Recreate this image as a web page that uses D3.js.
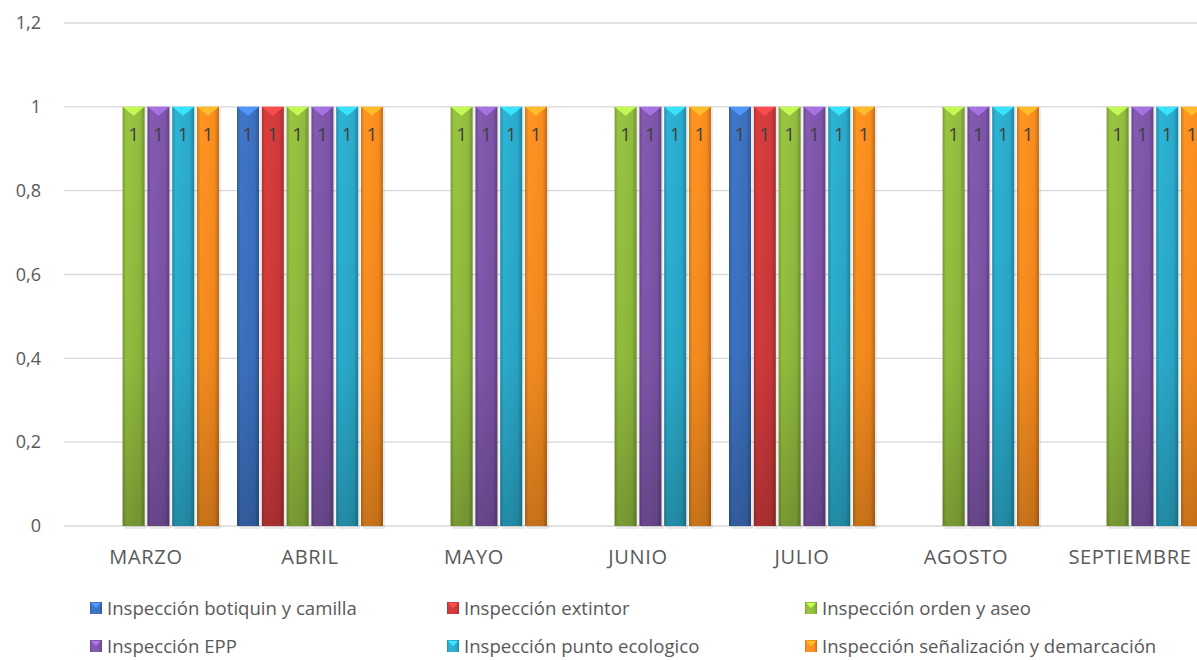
<!DOCTYPE html>
<html><head><meta charset="utf-8">
<script src="https://cdn.jsdelivr.net/npm/d3@7"></script>
<style>body{margin:0;background:#fff}svg{display:block;font-family:"Open Sans","Noto Sans","Liberation Sans",sans-serif}</style>
</head><body><svg id="c" width="1197" height="660"></svg>
<script>
const months = ["MARZO","ABRIL","MAYO","JUNIO","JULIO","AGOSTO","SEPTIEMBRE"];
const seriesNames = ["Inspección botiquin y camilla","Inspección extintor","Inspección orden y aseo","Inspección EPP","Inspección punto ecologico","Inspección señalización y demarcación"];
const botiquin = [null,1,null,null,1,null,null];
const extintor = [null,1,null,null,1,null,null];
const orden = [1,1,1,1,1,1,1];
const epp = [1,1,1,1,1,1,1];
const punto = [1,1,1,1,1,1,1];
const senal = [1,1,1,1,1,1,1];
const yTicks = [0,0.2,0.4,0.6,0.8,1,1.2];
const colors = ["#3c70bf","#cf3a3b","#91bb3e","#7d55a8","#2aaacb","#f88c1f"];
const seriesValues = [botiquin,extintor,orden,epp,punto,senal];

const svg = d3.select("#c");
const W = 1197;
const x0 = d3.scaleBand().domain(months).range([64, 64 + 164*7]);
const x1 = d3.scaleBand().domain(d3.range(6)).range([9,155]).paddingInner(0.113);
const y = d3.scaleLinear().domain([0,1.2]).range([526,23]);
const fmt = v => String(v).replace(".", ",");

const defs = svg.append("defs");
colors.forEach((c,i)=>{
  const g = defs.append("linearGradient").attr("id","g"+i).attr("x1","0").attr("x2","1").attr("y1","0").attr("y2","0");
  const base = d3.color(c);
  g.append("stop").attr("offset","0").attr("stop-color", base.darker(0.5));
  g.append("stop").attr("offset","0.15").attr("stop-color", base.brighter(0.15));
  g.append("stop").attr("offset","0.45").attr("stop-color", base.brighter(0.1));
  g.append("stop").attr("offset","0.8").attr("stop-color", base);
  g.append("stop").attr("offset","1").attr("stop-color", base.darker(0.7));
  const gv = defs.append("linearGradient").attr("id","v"+i).attr("x1","0").attr("x2","0").attr("y1","0").attr("y2","1");
  gv.append("stop").attr("offset","0").attr("stop-color","#000").attr("stop-opacity",0);
  gv.append("stop").attr("offset","0.6").attr("stop-color","#000").attr("stop-opacity",0.05);
  gv.append("stop").attr("offset","1").attr("stop-color","#000").attr("stop-opacity",0.22);
});

// gridlines
svg.append("g").selectAll("line").data(yTicks).join("line")
  .attr("x1",64).attr("x2",W).attr("y1",d=>y(d)).attr("y2",d=>y(d))
  .attr("stroke","#d9d9d9").attr("stroke-width",1.3);

// y labels
svg.append("g").selectAll("text").data(yTicks).join("text")
  .attr("x",41).attr("y",d=>y(d)).attr("dy","0.35em").attr("text-anchor","end")
  .attr("font-size",18).attr("fill","#595959").text(fmt);

// x labels
svg.append("g").selectAll("text").data(months).join("text")
  .attr("x",d=>x0(d)+x0.bandwidth()/2).attr("y",557).attr("dy","0.35em").attr("text-anchor","middle")
  .attr("font-size",20).attr("letter-spacing",0.7).attr("fill","#595959").text(d=>d);

// bars
const bars = [];
months.forEach((m,mi)=>seriesValues.forEach((arr,si)=>{ if(arr[mi]!=null) bars.push({m,si,v:arr[mi]}); }));
const bw = x1.bandwidth();
const bg = svg.append("g");
bars.forEach(b=>{
  const bx = x0(b.m)+x1(b.si), by = y(b.v), bh = y(0)-y(b.v);
  bg.append("rect").attr("x",bx+2).attr("y",by+1).attr("width",bw).attr("height",bh+2).attr("fill","#000").attr("opacity",0.08);
  bg.append("rect").attr("x",bx).attr("y",by).attr("width",bw).attr("height",bh).attr("fill","url(#g"+b.si+")");
  bg.append("rect").attr("x",bx).attr("y",by).attr("width",bw).attr("height",bh).attr("fill","url(#v"+b.si+")");
  const lc = d3.color(colors[b.si]).brighter(0.9);
  bg.append("path").attr("d",`M${bx},${by}L${bx+bw},${by}L${bx+bw/2},${by+9}Z`).attr("fill",lc).attr("opacity",0.9);
  bg.append("text").attr("x",bx+bw/2).attr("y",y(b.v)+28).attr("dy","0.35em").attr("text-anchor","middle")
    .attr("font-size",19).attr("fill","#404040").text(fmt(b.v));
});

// legend
const legX = [90,447,805], legY = [608,646];
seriesNames.forEach((n,i)=>{
  const lx = legX[i%3], ly = legY[Math.floor(i/3)];
  const g = svg.append("g").attr("transform",`translate(${lx},${ly})`);
  g.append("rect").attr("x",0).attr("y",-6).attr("width",12).attr("height",12).attr("fill","url(#g"+i+")");
  g.append("path").attr("d","M1,-5L11,-5L6,0Z").attr("fill",d3.color(colors[i]).brighter(0.9));
  g.append("text").attr("x",17).attr("y",0).attr("dy","0.35em").attr("font-size",18.6).attr("fill","#595959").text(n);
});
</script></body></html>
